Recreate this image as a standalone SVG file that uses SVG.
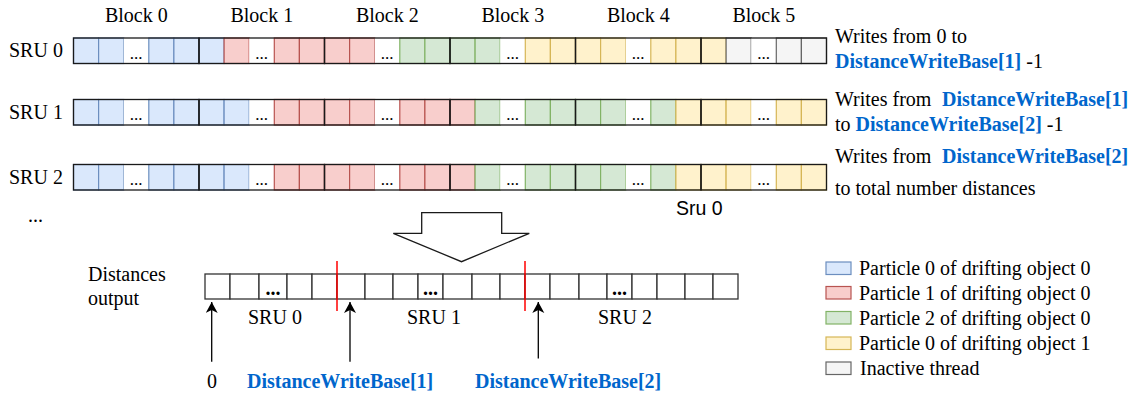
<svg xmlns="http://www.w3.org/2000/svg" xmlns:xlink="http://www.w3.org/1999/xlink" width="1134" height="398" viewBox="0 0 1134 398">
  <style>
    .t { font-family: "Liberation Serif", "Times New Roman", serif; font-size: 20px; fill: #000; }
    .sans { font-family: "Liberation Sans", Arial, sans-serif; font-size: 19.5px; fill: #000; }
    .hl { font-weight: bold; fill: #0066CC; }
    .dots { font-family: "Liberation Serif", "Times New Roman", serif; font-size: 17px; text-anchor: middle; fill: #000; }
    .bdots { font-family: "Liberation Serif", "Times New Roman", serif; font-size: 20px; font-weight: bold; text-anchor: middle; fill: #000; }
    .mid { text-anchor: middle; }
    .b { fill: #dae8fc; stroke: #6c8ebf; stroke-width: 1.2; }
    .r { fill: #f8cecc; stroke: #b85450; stroke-width: 1.2; }
    .g { fill: #d5e8d4; stroke: #82b366; stroke-width: 1.2; }
    .y { fill: #fff2cc; stroke: #d6b656; stroke-width: 1.2; }
    .k { fill: #f5f5f5; stroke: #666666; stroke-width: 1.2; }
    .w { fill: #ffffff; stroke: none; }
    .blk { fill: none; stroke: #1a1a1a; stroke-width: 1.3; }
    .cell { fill: #ffffff; stroke: #333333; stroke-width: 1.3; }
    .sep { stroke: #ff0000; stroke-width: 1.5; }
    .ptr { stroke: #000; stroke-width: 1.3; fill: none; marker-end: url(#head); }
  </style>
  <defs>
    <marker id="head" markerUnits="userSpaceOnUse" markerWidth="13" markerHeight="13" refX="11" refY="6" orient="auto">
      <path d="M0,0 L11,6 L0,12 L3,6 Z" fill="#000"/>
    </marker>
    <!-- one row of five block outlines -->
    <g id="blocks">
      <rect class="blk" x="73.5" y="0" width="125.5" height="25.5"/>
      <rect class="blk" x="199" y="0" width="125.5" height="25.5"/>
      <rect class="blk" x="324.5" y="0" width="125.5" height="25.5"/>
      <rect class="blk" x="450" y="0" width="125.5" height="25.5"/>
      <rect class="blk" x="575.5" y="0" width="125.5" height="25.5"/>
      <rect class="blk" x="701" y="0" width="125.5" height="25.5"/>
    </g>
  </defs>

  <rect width="1134" height="398" fill="#ffffff"/>

  <!-- block headings -->
  <g id="block-labels" class="t">
    <text class="mid" x="136.3" y="22">Block 0</text>
    <text class="mid" x="261.8" y="22">Block 1</text>
    <text class="mid" x="387.3" y="22">Block 2</text>
    <text class="mid" x="512.8" y="22">Block 3</text>
    <text class="mid" x="638.3" y="22">Block 4</text>
    <text class="mid" x="763.8" y="22">Block 5</text>
  </g>

  <!-- SRU 0 thread row -->
  <g id="sru0">
    <text class="t" x="9" y="57">SRU 0</text>
    <g transform="translate(0,38)">
      <rect class="b" x="73.5" y="0" width="25.1" height="25.5"/>
      <rect class="b" x="98.6" y="0" width="25.1" height="25.5"/>
      <rect class="w" x="123.7" y="0" width="25.1" height="25.5"/>
      <rect class="b" x="148.8" y="0" width="25.1" height="25.5"/>
      <rect class="b" x="173.9" y="0" width="25.1" height="25.5"/>
      <rect class="b" x="199" y="0" width="25.1" height="25.5"/>
      <rect class="r" x="224.1" y="0" width="25.1" height="25.5"/>
      <rect class="w" x="249.2" y="0" width="25.1" height="25.5"/>
      <rect class="r" x="274.3" y="0" width="25.1" height="25.5"/>
      <rect class="r" x="299.4" y="0" width="25.1" height="25.5"/>
      <rect class="r" x="324.5" y="0" width="25.1" height="25.5"/>
      <rect class="r" x="349.6" y="0" width="25.1" height="25.5"/>
      <rect class="w" x="374.7" y="0" width="25.1" height="25.5"/>
      <rect class="g" x="399.8" y="0" width="25.1" height="25.5"/>
      <rect class="g" x="424.9" y="0" width="25.1" height="25.5"/>
      <rect class="g" x="450" y="0" width="25.1" height="25.5"/>
      <rect class="g" x="475.1" y="0" width="25.1" height="25.5"/>
      <rect class="w" x="500.2" y="0" width="25.1" height="25.5"/>
      <rect class="y" x="525.3" y="0" width="25.1" height="25.5"/>
      <rect class="y" x="550.4" y="0" width="25.1" height="25.5"/>
      <rect class="y" x="575.5" y="0" width="25.1" height="25.5"/>
      <rect class="y" x="600.6" y="0" width="25.1" height="25.5"/>
      <rect class="w" x="625.7" y="0" width="25.1" height="25.5"/>
      <rect class="y" x="650.8" y="0" width="25.1" height="25.5"/>
      <rect class="y" x="675.9" y="0" width="25.1" height="25.5"/>
      <rect class="y" x="701" y="0" width="25.1" height="25.5"/>
      <rect class="k" x="726.1" y="0" width="25.1" height="25.5"/>
      <rect class="w" x="751.2" y="0" width="25.1" height="25.5"/>
      <rect class="k" x="776.3" y="0" width="25.1" height="25.5"/>
      <rect class="k" x="801.4" y="0" width="25.1" height="25.5"/>
      <use xlink:href="#blocks"/>
      <text class="dots" x="136.2" y="20.5">...</text>
      <text class="dots" x="261.7" y="20.5">...</text>
      <text class="dots" x="387.2" y="20.5">...</text>
      <text class="dots" x="512.7" y="20.5">...</text>
      <text class="dots" x="638.2" y="20.5">...</text>
      <text class="dots" x="763.7" y="20.5">...</text>
    </g>
    <text class="t" x="835" y="43">Writes from 0 to</text>
    <text class="t" x="835" y="68"><tspan class="hl">DistanceWriteBase[1]</tspan> -1</text>
  </g>

  <!-- SRU 1 thread row -->
  <g id="sru1">
    <text class="t" x="9" y="118.5">SRU 1</text>
    <g id="row-pattern" transform="translate(0,99.5)">
      <rect class="b" x="73.5" y="0" width="25.1" height="25.5"/>
      <rect class="b" x="98.6" y="0" width="25.1" height="25.5"/>
      <rect class="w" x="123.7" y="0" width="25.1" height="25.5"/>
      <rect class="b" x="148.8" y="0" width="25.1" height="25.5"/>
      <rect class="b" x="173.9" y="0" width="25.1" height="25.5"/>
      <rect class="b" x="199" y="0" width="25.1" height="25.5"/>
      <rect class="b" x="224.1" y="0" width="25.1" height="25.5"/>
      <rect class="w" x="249.2" y="0" width="25.1" height="25.5"/>
      <rect class="r" x="274.3" y="0" width="25.1" height="25.5"/>
      <rect class="r" x="299.4" y="0" width="25.1" height="25.5"/>
      <rect class="r" x="324.5" y="0" width="25.1" height="25.5"/>
      <rect class="r" x="349.6" y="0" width="25.1" height="25.5"/>
      <rect class="w" x="374.7" y="0" width="25.1" height="25.5"/>
      <rect class="r" x="399.8" y="0" width="25.1" height="25.5"/>
      <rect class="r" x="424.9" y="0" width="25.1" height="25.5"/>
      <rect class="r" x="450" y="0" width="25.1" height="25.5"/>
      <rect class="g" x="475.1" y="0" width="25.1" height="25.5"/>
      <rect class="w" x="500.2" y="0" width="25.1" height="25.5"/>
      <rect class="g" x="525.3" y="0" width="25.1" height="25.5"/>
      <rect class="g" x="550.4" y="0" width="25.1" height="25.5"/>
      <rect class="g" x="575.5" y="0" width="25.1" height="25.5"/>
      <rect class="g" x="600.6" y="0" width="25.1" height="25.5"/>
      <rect class="w" x="625.7" y="0" width="25.1" height="25.5"/>
      <rect class="g" x="650.8" y="0" width="25.1" height="25.5"/>
      <rect class="y" x="675.9" y="0" width="25.1" height="25.5"/>
      <rect class="y" x="701" y="0" width="25.1" height="25.5"/>
      <rect class="y" x="726.1" y="0" width="25.1" height="25.5"/>
      <rect class="w" x="751.2" y="0" width="25.1" height="25.5"/>
      <rect class="y" x="776.3" y="0" width="25.1" height="25.5"/>
      <rect class="y" x="801.4" y="0" width="25.1" height="25.5"/>
      <use xlink:href="#blocks"/>
      <text class="dots" x="136.2" y="20.5">...</text>
      <text class="dots" x="261.7" y="20.5">...</text>
      <text class="dots" x="387.2" y="20.5">...</text>
      <text class="dots" x="512.7" y="20.5">...</text>
      <text class="dots" x="638.2" y="20.5">...</text>
      <text class="dots" x="763.7" y="20.5">...</text>
    </g>
    <text class="t" x="835" y="106">Writes from</text>
    <text class="t hl" x="942" y="106">DistanceWriteBase[1]</text>
    <text class="t" x="835" y="131">to <tspan class="hl">DistanceWriteBase[2]</tspan> -1</text>
  </g>

  <!-- SRU 2 thread row (same layout as SRU 1) -->
  <g id="sru2">
    <text class="t" x="9" y="184">SRU 2</text>
    <use xlink:href="#row-pattern" transform="translate(0,65)"/>
    <text class="t" x="835" y="163">Writes from</text>
    <text class="t hl" x="942" y="163">DistanceWriteBase[2]</text>
    <text class="t" x="835" y="195">to total number distances</text>
  </g>

  <text id="more-rows" class="t" x="28" y="222">...</text>
  <text id="sru-caption" class="sans" x="676" y="215">Sru 0</text>

  <!-- merge arrow -->
  <g id="merge-arrow">
    <polygon points="421.7,212.7 501.7,212.7 501.7,233.3 529.3,233.3 461.5,261.7 393.3,233.3 421.7,233.3" fill="#ffffff" stroke="#1a1a1a" stroke-width="1.3"/>
  </g>

  <!-- merged output buffer -->
  <g id="distances-output">
    <text class="t" x="88" y="281">Distances</text>
    <text class="t" x="88" y="305">output</text>
    <g transform="translate(0,274)">
      <rect class="cell" x="205" y="0" width="25" height="25"/>
      <rect class="cell" x="230" y="0" width="29" height="25"/>
      <rect class="cell" x="259" y="0" width="28" height="25"/>
      <rect class="cell" x="287" y="0" width="25" height="25"/>
      <rect class="cell" x="312" y="0" width="25" height="25"/>
      <rect class="cell" x="337" y="0" width="28" height="25"/>
      <rect class="cell" x="365" y="0" width="28" height="25"/>
      <rect class="cell" x="393" y="0" width="25" height="25"/>
      <rect class="cell" x="418" y="0" width="25" height="25"/>
      <rect class="cell" x="443" y="0" width="29" height="25"/>
      <rect class="cell" x="472" y="0" width="28" height="25"/>
      <rect class="cell" x="500" y="0" width="25" height="25"/>
      <rect class="cell" x="525" y="0" width="25" height="25"/>
      <rect class="cell" x="550" y="0" width="29" height="25"/>
      <rect class="cell" x="579" y="0" width="28" height="25"/>
      <rect class="cell" x="607" y="0" width="25" height="25"/>
      <rect class="cell" x="632" y="0" width="25" height="25"/>
      <rect class="cell" x="657" y="0" width="28" height="25"/>
      <rect class="cell" x="685" y="0" width="28" height="25"/>
      <rect class="cell" x="713" y="0" width="25" height="25"/>
      <text class="bdots" x="273" y="21">...</text>
      <text class="bdots" x="430.5" y="21">...</text>
      <text class="bdots" x="619.5" y="21">...</text>
    </g>
    <line class="sep" x1="337" y1="261" x2="337" y2="311"/>
    <line class="sep" x1="525" y1="261" x2="525" y2="311"/>
    <text class="t" x="248" y="324">SRU 0</text>
    <text class="t" x="407" y="324">SRU 1</text>
    <text class="t" x="598" y="324">SRU 2</text>
  </g>

  <!-- write-base pointers -->
  <g id="pointers">
    <line class="ptr" x1="211.7" y1="361.7" x2="211.7" y2="302"/>
    <line class="ptr" x1="350" y1="361.7" x2="350" y2="302"/>
    <line class="ptr" x1="538.3" y1="358.5" x2="538.3" y2="302"/>
  </g>
  <g id="pointer-labels" class="t">
    <text x="207" y="388">0</text>
    <text class="hl" x="247" y="388">DistanceWriteBase[1]</text>
    <text class="hl" x="475" y="388">DistanceWriteBase[2]</text>
  </g>

  <!-- legend -->
  <g id="legend">
    <rect class="b" x="826" y="262" width="25" height="12.5"/>
    <rect class="r" x="826" y="286.5" width="25" height="12.5"/>
    <rect class="g" x="826" y="311.5" width="25" height="12.5"/>
    <rect class="y" x="826" y="337" width="25" height="12.5"/>
    <rect class="k" x="826" y="362" width="25" height="12.5"/>
    <text class="t" x="859" y="275">Particle 0 of drifting object 0</text>
    <text class="t" x="859" y="300">Particle 1 of drifting object 0</text>
    <text class="t" x="859" y="325">Particle 2 of drifting object 0</text>
    <text class="t" x="859" y="350">Particle 0 of drifting object 1</text>
    <text class="t" x="860" y="374.5">Inactive thread</text>
  </g>
</svg>
